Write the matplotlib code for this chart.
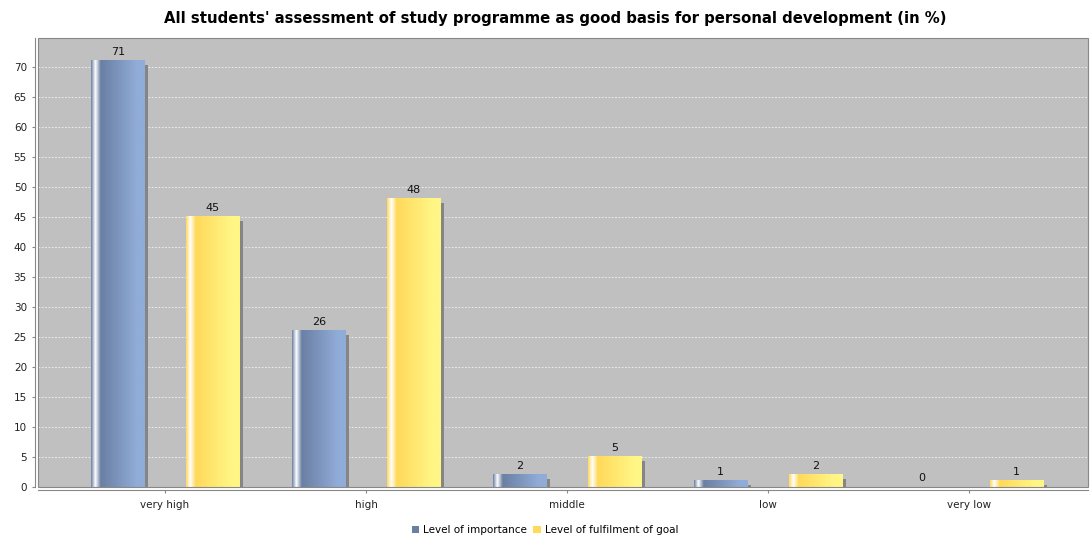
import numpy as np
import matplotlib
matplotlib.use("Agg")
import matplotlib.pyplot as plt
from matplotlib.colors import LinearSegmentedColormap
from matplotlib.patches import Patch, Rectangle

# data
categories = ["very high", "high", "middle", "low", "very low"]
importance = [71, 26, 2, 1, 0]
fulfilment = [45, 48, 5, 2, 1]
series_names = ["Level of importance", "Level of fulfilment of goal"]

plt.rcParams['font.family'] = ['DejaVu Sans']

fig = plt.figure(figsize=(10.9, 5.39), dpi=100)
ax = fig.add_axes([38 / 1090, 52 / 539, 1050 / 1090, 449 / 539])
ax.set_facecolor("#c0c0c0")

bar_w = 0.264
offset = 0.235
px_x = 1 / 201.0   # data units per pixel along x
px_y = 1 / 6.0     # data units per pixel along y


def bar_cmap(dark, light):
    # jfreechart-like gradient: highlight strip on the left, then dark -> light
    return LinearSegmentedColormap.from_list(
        "g", [(0.0, dark), (0.08, "#ffffff"), (0.18, dark), (0.85, light), (1.0, light)])


cmaps = [bar_cmap("#6a7fa3", "#90acd8"), bar_cmap("#ffd95a", "#fff685")]
grad = np.linspace(0, 1, 256).reshape(1, -1)

for s, (vals, cm) in enumerate(zip([importance, fulfilment], cmaps)):
    for i, v in enumerate(vals):
        x0 = i + (-offset if s == 0 else offset) - bar_w / 2
        # shadow
        sh = v - 4 * px_y
        if sh > 0:
            ax.bar(x0 + 4 * px_x, sh, width=bar_w, align="edge",
                   color="#858585", zorder=2, linewidth=0)
        if v > 0:
            ax.imshow(grad, cmap=cm, aspect="auto", extent=(x0, x0 + bar_w, 0, v),
                      zorder=3, interpolation="bilinear")
        ax.text(x0 + bar_w / 2, v + 0.6, str(v), ha="center", va="bottom",
                fontsize=8, color="#111111", zorder=4)

ax.set_xlim(-0.632, 4.592)
ax.set_ylim(0, 74.8)
ax.set_xticks(range(len(categories)))
ax.set_xticklabels(categories)
ax.set_yticks(range(0, 75, 5))
ax.tick_params(axis="y", labelsize=7.5, length=2, color="#888888", labelcolor="#222222")
ax.tick_params(axis="x", labelsize=7.5, length=2, color="#888888", pad=5, labelcolor="#222222")
ax.yaxis.grid(True, color="#f4f4f4", linestyle=(0, (2, 2)), linewidth=0.6)
ax.set_axisbelow(True)

for side in ["top", "right"]:
    ax.spines[side].set_visible(False)
for side in ["left", "bottom"]:
    ax.spines[side].set_position(("outward", 2.5))
    ax.spines[side].set_color("#888888")
    ax.spines[side].set_linewidth(0.8)
ax.add_patch(Rectangle((0, 0), 1, 1, transform=ax.transAxes, fill=False,
                       edgecolor="#888888", linewidth=0.8, zorder=5, clip_on=False))

fig.text(555 / 1090, 1 - 19 / 539,
         "All students' assessment of study programme as good basis for personal development (in %)",
         fontsize=10.7, fontweight="bold", ha="center", va="center")

handles = [Patch(facecolor="#6a7fa3"), Patch(facecolor="#ffd95a")]
fig.legend(handles, series_names, loc="center", bbox_to_anchor=(0.5, 0.016), ncol=2,
           frameon=False, fontsize=7.5, handlelength=0.7, handleheight=0.7,
           handletextpad=0.4, columnspacing=0.6)

fig.savefig("out.png", dpi=100)
